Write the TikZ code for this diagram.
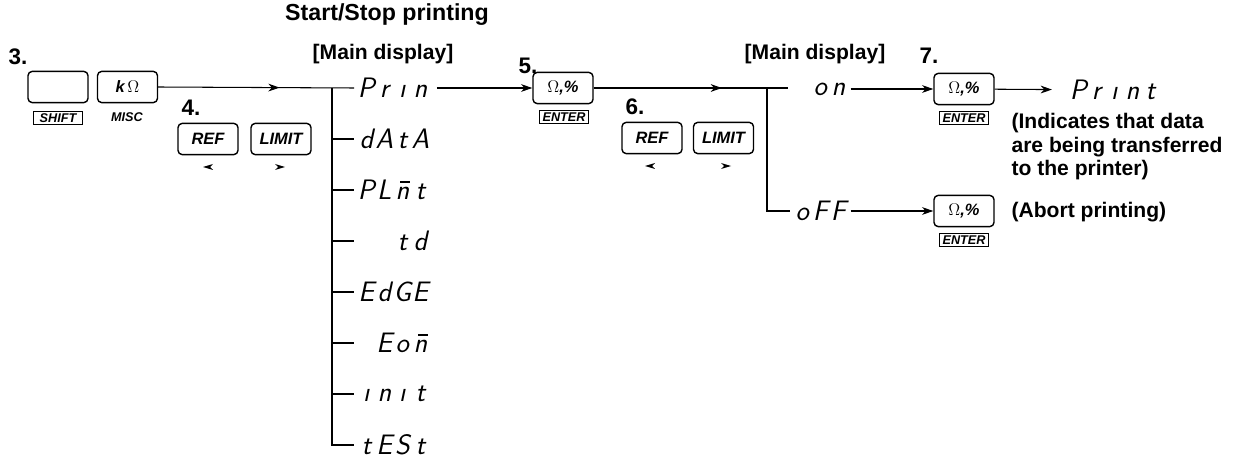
\documentclass[tikz,border=0pt]{standalone}
\usepackage{fontspec}
\setmainfont{Liberation Sans}
\usetikzlibrary{arrows.meta,positioning,decorations.markings}

% one cell of the seven-segment display
\newcommand{\sg}[1]{\makebox[0.45cm]{#1}}
\newcommand{\nbar}{\ooalign{n\cr\hidewidth\kern0.18em\raisebox{0.6em}{\rule{0.34em}{0.05em}}\hidewidth\cr}}

\begin{document}
\begin{tikzpicture}[x=0.025cm,y=-0.025cm,line width=0.75pt,
  >={Stealth[length=8pt,width=5.5pt,inset=2.5pt]},
  keybox/.style={draw,line width=1pt,rounded corners=3pt,minimum width=1.5cm,
    minimum height=0.78cm,inner sep=0pt,font=\bfseries\itshape\fontsize{11.7}{12}\selectfont},
  keylabel/.style={font=\bfseries\itshape\fontsize{9}{9}\selectfont,inner sep=1.5pt},
  boxlabel/.style={keylabel,draw,line width=0.6pt,minimum height=0.34cm,inner xsep=2pt},
  segtext/.style={font=\sffamily\itshape\fontsize{20}{20}\selectfont,inner xsep=2pt,inner ysep=0pt},
  stepno/.style={font=\bfseries\fontsize{16}{16}\selectfont,inner sep=0pt},
  heading/.style={font=\bfseries\fontsize{15}{15}\selectfont,inner sep=0pt},
  note/.style={font=\bfseries\fontsize{15}{16.7}\selectfont,align=left,inner sep=0pt},
  midarrow/.style={postaction={decorate},
    decoration={markings,mark=at position #1 with {\arrow{>}}}}]
\useasboundingbox (0,0) rectangle (1237,458);

% headings
\node[heading,font=\bfseries\fontsize{16.5}{16.5}\selectfont] (title) at (387,15) {Start/Stop printing};
\node[heading] (main1) at (383,54) {[Main display]};
\node[heading] (main2) at (815,54) {[Main display]};

% step 3
\node[stepno] (s3) at (18,57) {3.};
\node[keybox] (shift) at (58,87) {};
\node[boxlabel,minimum width=1.22cm] (shiftl) at (58,118) {SHIFT};
\node[keybox] (kohm) at (127.5,87) {k\,{\normalfont\fontsize{12}{12}\selectfont$\Omega$}};
\node[keylabel] (misc) at (127,117) {MISC};

% step 4
\node[stepno] (s4) at (191,108) {4.};
\node[keybox] (ref4) at (208,139) {REF};
\node[keybox] (lim4) at (281,139) {LIMIT};
\fill (203,167) -- (213,164) -- (210,167) -- (213,170) -- cycle;
\fill (285,167) -- (275,164) -- (278,167) -- (275,170) -- cycle;

% menu tree
\foreach \nm/\yy/\txt in {prin/88/{\sg{P}\sg{r}\sg{\i}\sg{n}},
                          data/139/{\sg{d}\sg{A}\sg{t}\sg{A}},
                          plmt/190/{\sg{P}\sg{L}\sg{\nbar}\sg{t}},
                          td/241/{\sg{}\sg{}\sg{t}\sg{d}},
                          edge/292/{\sg{E}\sg{d}\sg{G}\sg{E}},
                          eom/343/{\sg{}\sg{E}\sg{o}\sg{\nbar}},
                          init/394/{\sg{\i}\sg{n}\sg{\i}\sg{t}},
                          test/445/{\sg{t}\sg{E}\sg{S}\sg{t}}} {
  \node[segtext,anchor=west] (\nm) at (354,\yy) {\txt};
  \coordinate (br\nm) at (332,\yy);
}
\draw[midarrow=0.62] (kohm.east) -- (prin.west);
\foreach \nm in {data,plmt,td,edge,eom,init}
  \draw (br\nm) -- (\nm.west);
\draw (brprin) |- (test.west);

% step 5
\node[stepno] (s5) at (528,66) {5.};
\node[keybox] (ent5) at (563,88) {{\normalfont\fontsize{12}{12}\selectfont$\Omega$},\%};
\node[boxlabel] (ent5l) at (564,117) {ENTER};
\draw[->,shorten <=3pt] (prin) -- (ent5);

% step 6
\node[stepno] (s6) at (635,107) {6.};
\node[keybox] (ref6) at (652,138) {REF};
\node[keybox] (lim6) at (723.5,138) {LIMIT};
\fill (645,166) -- (655,163) -- (652,166) -- (655,169) -- cycle;
\fill (731,166) -- (721,163) -- (724,166) -- (721,169) -- cycle;

% on / off
\coordinate (j2) at (767,88);
\coordinate (stub2) at (788,88);
\draw[midarrow=0.66] (ent5.east) -- (stub2);
\node[segtext,anchor=west] (on) at (790,89) {\sg{}\sg{o}\sg{n}};
\node[segtext,anchor=west] (off) at (790,211) {\sg{o}\sg{F}\sg{F}};
\draw (j2) |- (off.west);

% step 7
\node[stepno] (s7) at (929,56) {7.};
\node[keybox] (ent7) at (964,89) {{\normalfont\fontsize{12}{12}\selectfont$\Omega$},\%};
\node[boxlabel] (ent7l) at (964,118) {ENTER};
\node[keybox] (ent8) at (964,211) {{\normalfont\fontsize{12}{12}\selectfont$\Omega$},\%};
\node[boxlabel] (ent8l) at (964,240) {ENTER};
\draw[->] (on) -- (ent7);
\draw[->] (off) -- (ent8);

\node[segtext,anchor=west] (print) at (1066,90) {\sg{P}\sg{r}\sg{\i}\sg{n}\sg{t}};
\draw[->,shorten >=10pt] (ent7) -- (print);
\node[note,anchor=west] (info) at (1011,147) {(Indicates that data\\are being transferred\\to the printer)};
\node[note,anchor=west] (abort) at (1011,212) {(Abort printing)};
\end{tikzpicture}
\end{document}
